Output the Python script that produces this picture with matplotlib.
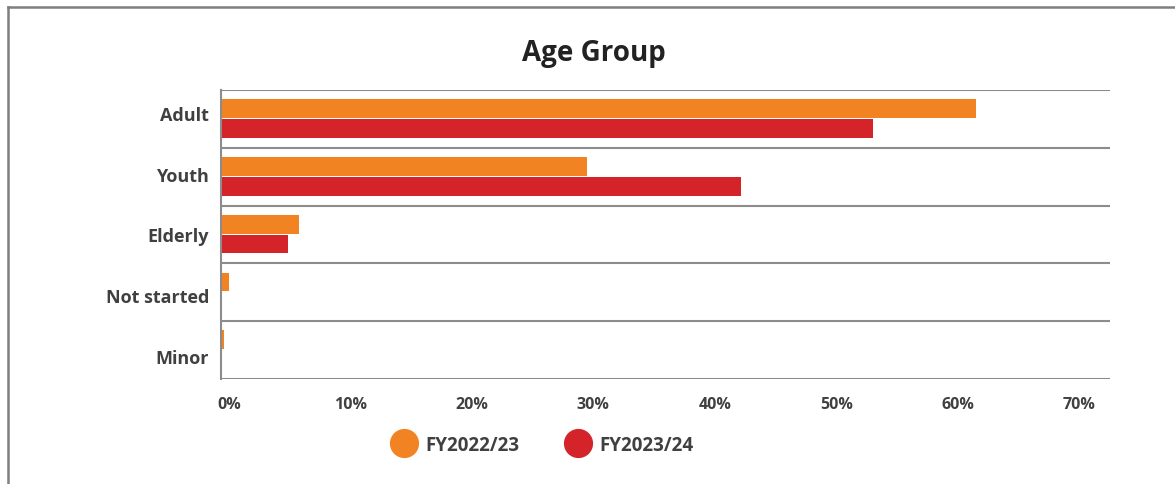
import matplotlib
matplotlib.use("Agg")
import matplotlib.pyplot as plt
from matplotlib.lines import Line2D
import matplotlib.transforms as mtransforms
import numpy as np

plt.rcParams['font.family'] = ['Open Sans', 'DejaVu Sans']

categories = ["Adult", "Youth", "Elderly", "Not started", "Minor"]
fy2223 = [62.2, 30.1, 6.4, 0.66, 0.25]
fy2324 = [53.7, 42.8, 5.5, 0.0, 0.0]
series_names = ["FY2022/23", "FY2023/24"]
xticks = [0, 10, 20, 30, 40, 50, 60, 70]
xtick_labels = ["0%", "10%", "20%", "30%", "40%", "50%", "60%", "70%"]

orange = "#F28322"
red = "#D5232A"
grid_col = "#8c8c8c"
label_col = "#404040"

fig = plt.figure(figsize=(11.75, 4.85), dpi=100)
ax = fig.add_axes([0.1881, 0.2165, 0.7566, 0.5959])

y = np.arange(len(categories))
h = 0.325
ax.barh(y - 0.178, fy2223, height=h, color=orange, label=series_names[0])
ax.barh(y + 0.165, fy2324, height=h, color=red, label=series_names[1])

ax.set_ylim(len(categories) - 0.5, -0.5)
ax.set_xlim(0, 73.2)

# horizontal separators between categories
for b in np.arange(-0.5, len(categories), 1.0):
    ax.axhline(b, color=grid_col, lw=1.5, zorder=0)

for s in ["top", "right", "bottom"]:
    ax.spines[s].set_visible(False)
ax.spines["left"].set_color(grid_col)
ax.spines["left"].set_linewidth(1.5)

# category labels sit slightly spread out relative to the bands
ax.set_yticks(y + (y - 2) * 0.052)
ax.set_yticklabels(categories, fontsize=13, fontweight="bold", color=label_col)
ax.tick_params(axis="y", length=0, pad=8.5)

ax.set_xticks(xticks)
ax.set_xticklabels(xtick_labels, fontsize=11.5, fontweight="bold", color=label_col)
ax.tick_params(axis="x", length=0, pad=12.5)
offset = mtransforms.ScaledTranslation(8 / 100, 0, fig.dpi_scale_trans)
for lab in ax.get_xticklabels():
    lab.set_transform(lab.get_transform() + offset)

fig.text(594 / 1175, 1 - 54 / 485, "Age Group", ha="center", va="center",
         fontsize=20, fontweight="bold", color="#222222")

handles = [
    Line2D([], [], marker="o", linestyle="none", markersize=20, color=orange),
    Line2D([], [], marker="o", linestyle="none", markersize=20, color=red),
]
leg = fig.legend(handles, series_names, loc="center", bbox_to_anchor=(0.463, 0.081),
                 ncol=2, frameon=False, handlelength=1.0, handletextpad=0.62,
                 columnspacing=2.65, borderpad=0,
                 prop={"size": 13.5, "weight": "bold"})
for t in leg.get_texts():
    t.set_color(label_col)

# outer frame (left and top edges)
fig.add_artist(Line2D([8 / 1175, 8 / 1175], [0, 1 - 8 / 485], transform=fig.transFigure,
                      color="#7f7f7f", lw=1.8))
fig.add_artist(Line2D([8 / 1175, 1], [1 - 8 / 485, 1 - 8 / 485], transform=fig.transFigure,
                      color="#7f7f7f", lw=1.8))

fig.savefig("out.png", dpi=100, facecolor="white")
